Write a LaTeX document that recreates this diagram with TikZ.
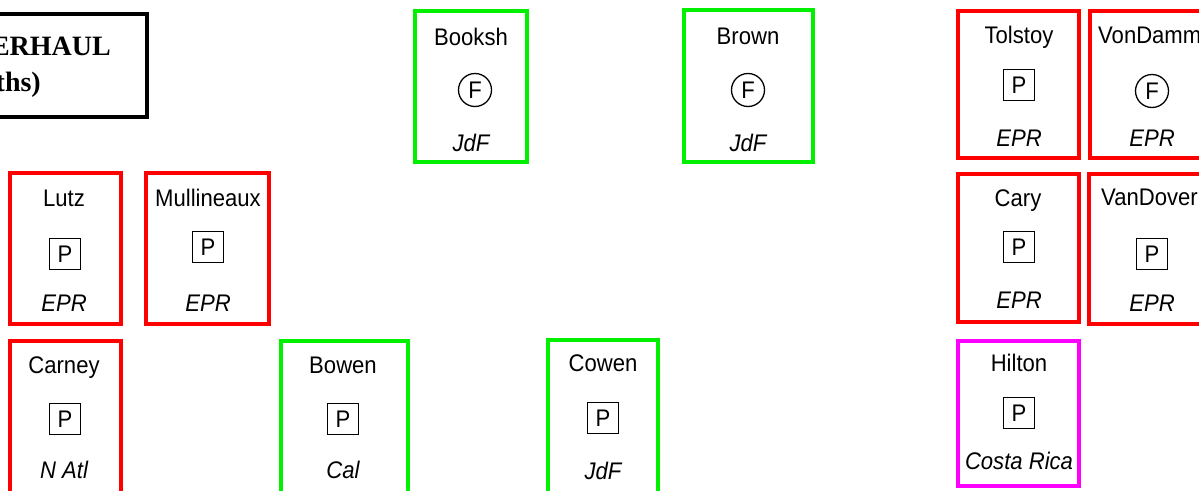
\documentclass[tikz,border=0pt]{standalone}
\usepackage{fontspec}
\setmainfont{Liberation Sans}
\newfontfamily\shipfont[FakeStretch=0.92]{Liberation Sans}
\newfontfamily\titlefont{Liberation Serif}
\definecolor{shipred}{RGB}{255,0,0}
\definecolor{shipgreen}{RGB}{0,240,0}
\definecolor{shippink}{RGB}{255,0,255}
\tikzset{
  redbox/.style={draw=shipred,line width=4.5pt},
  greenbox/.style={draw=shipgreen,line width=4.5pt},
  pinkbox/.style={draw=shippink,line width=4.5pt},
  shipname/.style={anchor=base,inner sep=0pt,font=\shipfont\fontsize{24}{28}\selectfont},
  port/.style={anchor=base,inner sep=0pt,font=\shipfont\fontsize{24}{28}\selectfont\itshape},
  psym/.style={draw,line width=1.3pt,minimum size=31pt,inner sep=0pt,font=\shipfont\fontsize{24}{28}\selectfont},
  fsym/.style={draw,circle,line width=1.3pt,minimum size=33pt,inner sep=0pt,font=\shipfont\fontsize{24}{28}\selectfont},
  title/.style={anchor=base east,inner sep=0pt,font=\titlefont\bfseries\fontsize{28}{32}\selectfont}
}
\begin{document}
\begin{tikzpicture}[x=1pt,y=-1pt]
  \useasboundingbox (0,0) rectangle (1199,490);
  \clip (0,0) rectangle (1199,490);
  % title
  \draw[line width=4.5pt] (-60,14) rectangle (147,117);
  \node (t1) [title] at (111,55) {ERHAUL};
  \node (t2) [title] at (41,91) {ths)};
  % top row
  \draw[greenbox] (415,11) rectangle (527,162);
  \node (booksh) [shipname] at (471,45) {Booksh};
  \node (bookshF) [fsym] at (475,90) {F};
  \node (bookshH) [port] at (471,151) {JdF};
  \draw[greenbox] (684,10) rectangle (813,162);
  \node (brown) [shipname] at (748,44) {Brown};
  \node (brownF) [fsym] at (748,90) {F};
  \node (brownH) [port] at (748,151) {JdF};
  \draw[redbox] (958,11) rectangle (1079,158);
  \node (tolstoy) [shipname] at (1019,43) {Tolstoy};
  \node (tolstoyP) [psym] at (1019,85) {P};
  \node (tolstoyH) [port] at (1019,146) {EPR};
  \draw[redbox] (1090,11) rectangle (1215,158);
  \node (vondamm) [shipname,anchor=base west] at (1098,43) {VonDamm};
  \node (vondammF) [fsym] at (1152,91) {F};
  \node (vondammH) [port] at (1152,146) {EPR};
  % middle row
  \draw[redbox] (10,173) rectangle (121,324);
  \node (lutz) [shipname] at (64,206) {Lutz};
  \node (lutzP) [psym] at (65,254) {P};
  \node (lutzH) [port] at (64,311) {EPR};
  \draw[redbox] (146,173) rectangle (269,324);
  \node (mull) [shipname] at (208,206) {Mullineaux};
  \node (mullP) [psym] at (208,247) {P};
  \node (mullH) [port] at (208,311) {EPR};
  \draw[redbox] (958,174) rectangle (1079,322);
  \node (cary) [shipname] at (1018,206) {Cary};
  \node (caryP) [psym] at (1019,247) {P};
  \node (caryH) [port] at (1019,308) {EPR};
  \draw[redbox] (1089,174) rectangle (1215,324);
  \node (vandover) [shipname,anchor=base west] at (1101,205) {VanDover};
  \node (vandoverP) [psym] at (1152,254) {P};
  \node (vandoverH) [port] at (1152,311) {EPR};
  % bottom row
  \draw[redbox] (10,341) rectangle (121,500);
  \node (carney) [shipname] at (64,373) {Carney};
  \node (carneyP) [psym] at (65,419) {P};
  \node (carneyH) [port] at (64,478) {N Atl};
  \draw[greenbox] (281,341) rectangle (408,500);
  \node (bowen) [shipname] at (343,373) {Bowen};
  \node (bowenP) [psym] at (343,419) {P};
  \node (bowenH) [port] at (343,478) {Cal};
  \draw[greenbox] (548,340) rectangle (658,500);
  \node (cowen) [shipname] at (603,371) {Cowen};
  \node (cowenP) [psym] at (603,418) {P};
  \node (cowenH) [port] at (603,479) {JdF};
  \draw[pinkbox] (958,341) rectangle (1079,486);
  \node (hilton) [shipname] at (1019,371) {Hilton};
  \node (hiltonP) [psym] at (1019,413) {P};
  \node (hiltonH) [port] at (1019,469) {Costa Rica};
\end{tikzpicture}
\end{document}
